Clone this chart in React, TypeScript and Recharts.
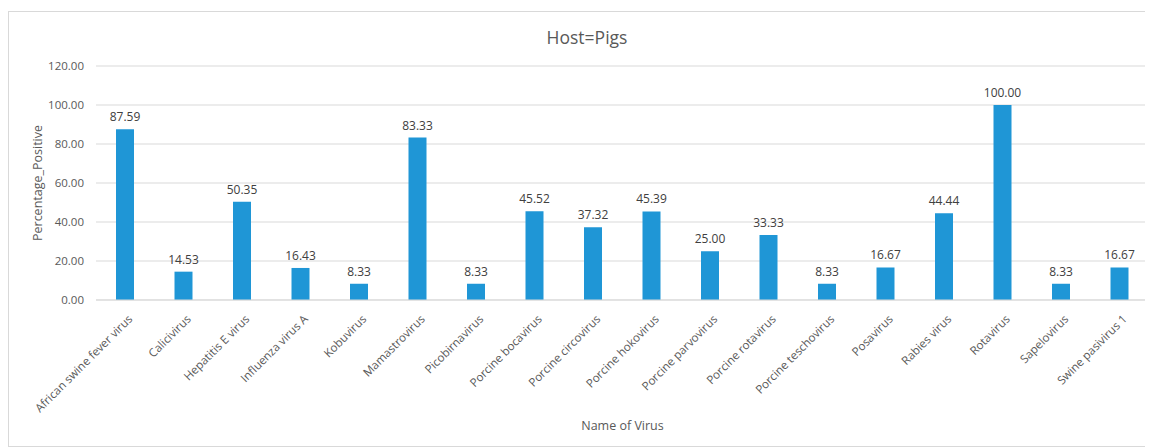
import React from 'react';
import { BarChart, Bar, XAxis, YAxis, CartesianGrid, LabelList, Label } from 'recharts';

const viruses = [
  'African swine fever virus', 'Calicivirus', 'Hepatitis E virus', 'Influenza virus A', 'Kobuvirus',
  'Mamastrovirus', 'Picobirnavirus', 'Porcine bocavirus', 'Porcine circovirus', 'Porcine hokovirus',
  'Porcine parvovirus', 'Porcine rotavirus', 'Porcine teschovirus', 'Posavirus', 'Rabies virus',
  'Rotavirus', 'Sapelovirus', 'Swine pasivirus 1',
];
const percentages = [87.59, 14.53, 50.35, 16.43, 8.33, 83.33, 8.33, 45.52, 37.32, 45.39, 25.0, 33.33, 8.33, 16.67, 44.44, 100.0, 8.33, 16.67];
const yTicks = [0, 20, 40, 60, 80, 100, 120];

const data = viruses.map((name, i) => ({ name, value: percentages[i] }));

const FONT = '"Open Sans", "Liberation Sans", sans-serif';
const TEXT = '#595959';

const XTick = (props: any) => {
  const { x, y, payload } = props;
  return (
    <g transform={`translate(${x + 5},${y + 9})`}>
      <text x={0} y={0} dy="0.35em" textAnchor="end" transform="rotate(-45)" fill={TEXT} fontSize={11.6} fontFamily={FONT}>
        {payload.value}
      </text>
    </g>
  );
};

export default function App() {
  return (
    <div style={{ position: 'relative', width: 1145, height: 440 }}>
      <div style={{ position: 'absolute', left: 0, top: 3, width: 1141, height: 434, border: '1px solid #d9d9d9' }} />
      <div style={{ position: 'absolute', left: 0, top: 0 }}>
        <BarChart width={1145} height={440} data={data} margin={{ top: 58, right: 4, left: 0, bottom: 0 }} barCategoryGap="0%">
          <text x={579} y={29} textAnchor="middle" dominantBaseline="central" fill={TEXT} fontSize={17.5} fontFamily={FONT}>Host=Pigs</text>
          <CartesianGrid vertical={false} stroke="#d9d9d9" />
          <XAxis dataKey="name" interval={0} height={148} tick={<XTick />} tickLine={false} axisLine={{ stroke: '#d9d9d9' }}>
            <Label
              content={(p: any) => {
                const vb = p.viewBox;
                return (
                  <text x={vb.x + vb.width / 2} y={417} textAnchor="middle" dominantBaseline="central" fill={TEXT} fontSize={12.5} fontFamily={FONT}>
                    Name of Virus
                  </text>
                );
              }}
            />
          </XAxis>
          <YAxis
            width={88}
            domain={[0, 120]}
            ticks={yTicks}
            tickFormatter={(v: number) => v.toFixed(2)}
            tick={{ fill: TEXT, fontSize: 11.5, fontFamily: FONT }}
            tickLine={false}
            axisLine={false}
            tickSize={0}
            tickMargin={12}
          >
            <Label
              content={(p: any) => {
                const vb = p.viewBox;
                const cy = vb.y + vb.height / 2;
                return (
                  <text x={29} y={cy} transform={`rotate(-90, 29, ${cy})`} textAnchor="middle" dominantBaseline="central" fill={TEXT} fontSize={12.5} fontFamily={FONT}>
                    Percentage_Positive
                  </text>
                );
              }}
            />
          </YAxis>
          <Bar dataKey="value" fill="#1f96d6" barSize={18} isAnimationActive={false}>
            <LabelList dataKey="value" position="top" offset={8} formatter={(v: number) => v.toFixed(2)} fill="#404040" fontSize={12} fontFamily={FONT} />
          </Bar>
        </BarChart>
      </div>
    </div>
  );
}
